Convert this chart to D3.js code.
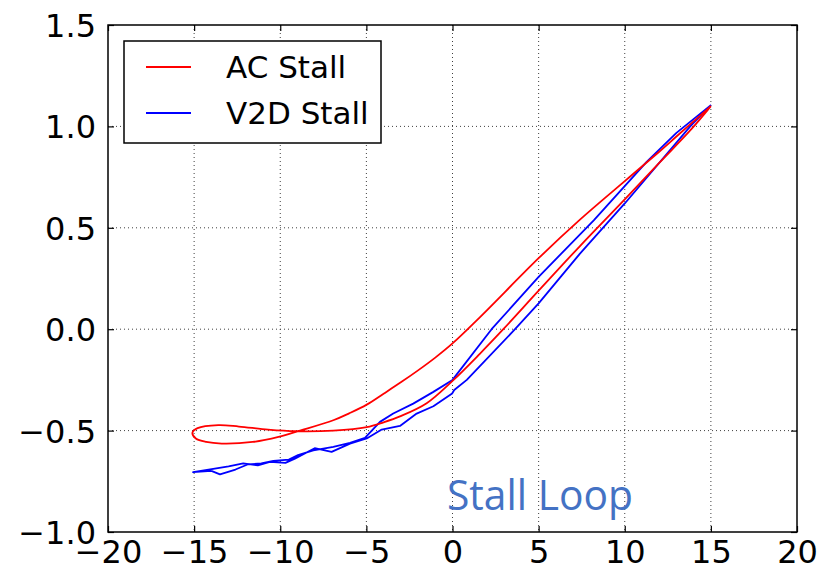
<!DOCTYPE html>
<html>
<head>
<meta charset="utf-8">
<script src="https://cdn.jsdelivr.net/npm/d3@7"></script>
<style>
  html, body { margin: 0; padding: 0; background: #fff; }
  svg { display: block; }
</style>
</head>
<body>
<div id="chart"></div>
<script>
// Lift coefficient vs angle of attack for two dynamic-stall models.
const xTicks = [-20, -15, -10, -5, 0, 5, 10, 15, 20];
const yTicks = [-1.0, -0.5, 0.0, 0.5, 1.0, 1.5];

// AC model: smooth hysteresis loop (angle, lift)
const acAlpha = [15, 13, 12, 10, 7.4, 5, 1.6, 0, -1, -2, -3, -4, -4.98, -6, -6.92, -8.85, -10.1, -11.6, -13.4, -14.3, -14.9, -15.1, -14.8, -13.6, -12.4, -10.7, -9.1, -6.92, -4.98, -4.0, -3.05, -1.5, 0, 1.6, 2.95, 5, 7.4, 10, 12, 13.8, 15];
const acLift  = [1.1, 0.95, 0.875, 0.73, 0.54, 0.35, 0.06, -0.07, -0.14, -0.203, -0.262, -0.318, -0.372, -0.415, -0.449, -0.5, -0.531, -0.556, -0.564, -0.556, -0.539, -0.511, -0.488, -0.473, -0.48, -0.495, -0.503, -0.5, -0.483, -0.459, -0.43, -0.365, -0.255, -0.12, 0, 0.19, 0.41, 0.64, 0.82, 0.98, 1.1];

// V2D model: vortex-panel result, piecewise (angle, lift)
const v2dAlpha = [15, 13, 11.27, 8.2, 5, 2.27, 0, -1.11, -2.28, -3.44, -4.21, -5.08, -5.95, -6.92, -8.08, -8.97, -9.5, -10.4, -11.1, -11.9, -12.6, -13.5, -14.0, -15.06,
                  -13.8, -13.0, -12.15, -11.3, -10.6, -9.7, -9.15, -8.0, -7.02, -5.95, -4.98, -4.11, -3.05, -2.08, -1.11, -0.02, 0.1, 0.83, 3.63, 5, 7.4, 10, 13.8, 15];
const v2dLift  = [1.105, 0.968, 0.825, 0.537, 0.258, 0, -0.25, -0.309, -0.367, -0.416, -0.457, -0.536, -0.561, -0.58, -0.597, -0.621, -0.643, -0.649, -0.662, -0.667, -0.692, -0.716, -0.699, -0.705,
                  -0.687, -0.676, -0.662, -0.671, -0.654, -0.659, -0.638, -0.587, -0.605, -0.564, -0.539, -0.495, -0.477, -0.416, -0.38, -0.317, -0.3, -0.25, 0, 0.127, 0.373, 0.62, 1.0, 1.105];

const seriesNames = ["AC Stall", "V2D Stall"];
const seriesColors = ["#ff0000", "#0000ff"];
const noteText = "Stall Loop";

const W = 833, H = 572;
const margin = { top: 25, right: 36, bottom: 40, left: 108 };
const iw = W - margin.left - margin.right;
const ih = H - margin.top - margin.bottom;

const svg = d3.select("#chart").append("svg")
  .attr("width", W).attr("height", H)
  .style("font-family", "'DejaVu Sans', sans-serif");

const x = d3.scaleLinear().domain([-20, 20]).range([0, iw]);
const y = d3.scaleLinear().domain([-1.0, 1.5]).range([ih, 0]);

const g = svg.append("g").attr("transform", `translate(${margin.left},${margin.top})`);

// dotted grid
const grid = g.append("g").attr("stroke", "#000").attr("stroke-width", 1)
  .attr("stroke-dasharray", "1,3").attr("opacity", 0.75);
grid.selectAll("line.gx").data(xTicks.slice(1, -1)).join("line")
  .attr("x1", d => x(d)).attr("x2", d => x(d)).attr("y1", 0).attr("y2", ih);
grid.selectAll("line.gy").data(yTicks.slice(1, -1)).join("line")
  .attr("y1", d => y(d)).attr("y2", d => y(d)).attr("x1", 0).attr("x2", iw);

// data lines
const acData = acAlpha.map((a, i) => [a, acLift[i]]);
const v2dData = v2dAlpha.map((a, i) => [a, v2dLift[i]]);

g.append("path").datum(v2dData)
  .attr("fill", "none").attr("stroke", seriesColors[1]).attr("stroke-width", 1.8)
  .attr("stroke-linejoin", "round")
  .attr("d", d3.line().x(d => x(d[0])).y(d => y(d[1])));

g.append("path").datum(acData)
  .attr("fill", "none").attr("stroke", seriesColors[0]).attr("stroke-width", 1.8)
  .attr("d", d3.line().curve(d3.curveCatmullRom.alpha(0.5)).x(d => x(d[0])).y(d => y(d[1])));

// axes with inward ticks on all four sides
const fmtY = d => d3.format(".1f")(d).replace("-", "\u2212");
const fmtX = d => String(d).replace("-", "\u2212");

function styleAxis(sel) {
  sel.selectAll(".domain").remove();
  sel.selectAll(".tick line").attr("stroke", "#000").attr("stroke-width", 1.2);
}

g.append("g").attr("transform", `translate(0,${ih})`)
  .call(d3.axisBottom(x).tickValues(xTicks).tickSizeInner(-6).tickPadding(11.5).tickFormat(fmtX))
  .call(styleAxis)
  .call(s => s.selectAll("text").attr("font-size", 32).attr("fill", "#000").attr("font-family", "'DejaVu Sans', sans-serif").attr("dy", "0.62em"));

g.append("g")
  .call(d3.axisLeft(y).tickValues(yTicks).tickSizeInner(-6).tickPadding(12).tickFormat(fmtY))
  .call(styleAxis)
  .call(s => s.selectAll("text").attr("font-size", 32).attr("fill", "#000").attr("font-family", "'DejaVu Sans', sans-serif").attr("dy", "0.36em"));

g.append("g")
  .call(d3.axisTop(x).tickValues(xTicks).tickSizeInner(-6).tickFormat(""))
  .call(styleAxis);
g.append("g").attr("transform", `translate(${iw},0)`)
  .call(d3.axisRight(y).tickValues(yTicks).tickSizeInner(-6).tickFormat(""))
  .call(styleAxis);

// frame
g.append("rect").attr("width", iw).attr("height", ih)
  .attr("fill", "none").attr("stroke", "#000").attr("stroke-width", 1.5);

// annotation
g.append("text")
  .attr("x", x(-0.32)).attr("y", y(-0.893))
  .attr("font-family", "'Open Sans', sans-serif").attr("font-size", 42)
  .attr("fill", "#4472c4")
  .attr("textLength", 186).attr("lengthAdjust", "spacingAndGlyphs")
  .text(noteText);

// legend
const lg = svg.append("g").attr("transform", "translate(124,41)");
lg.append("rect").attr("width", 257).attr("height", 102)
  .attr("fill", "#fff").attr("stroke", "#000").attr("stroke-width", 1.5);
seriesNames.forEach((name, i) => {
  const yy = 26 + i * 46;
  lg.append("line").attr("x1", 22).attr("x2", 67).attr("y1", yy).attr("y2", yy)
    .attr("stroke", seriesColors[i]).attr("stroke-width", 1.8);
  lg.append("text").attr("x", 102).attr("y", yy + 11)
    .attr("font-size", 31).attr("fill", "#000").text(name);
});
</script>
</body>
</html>
